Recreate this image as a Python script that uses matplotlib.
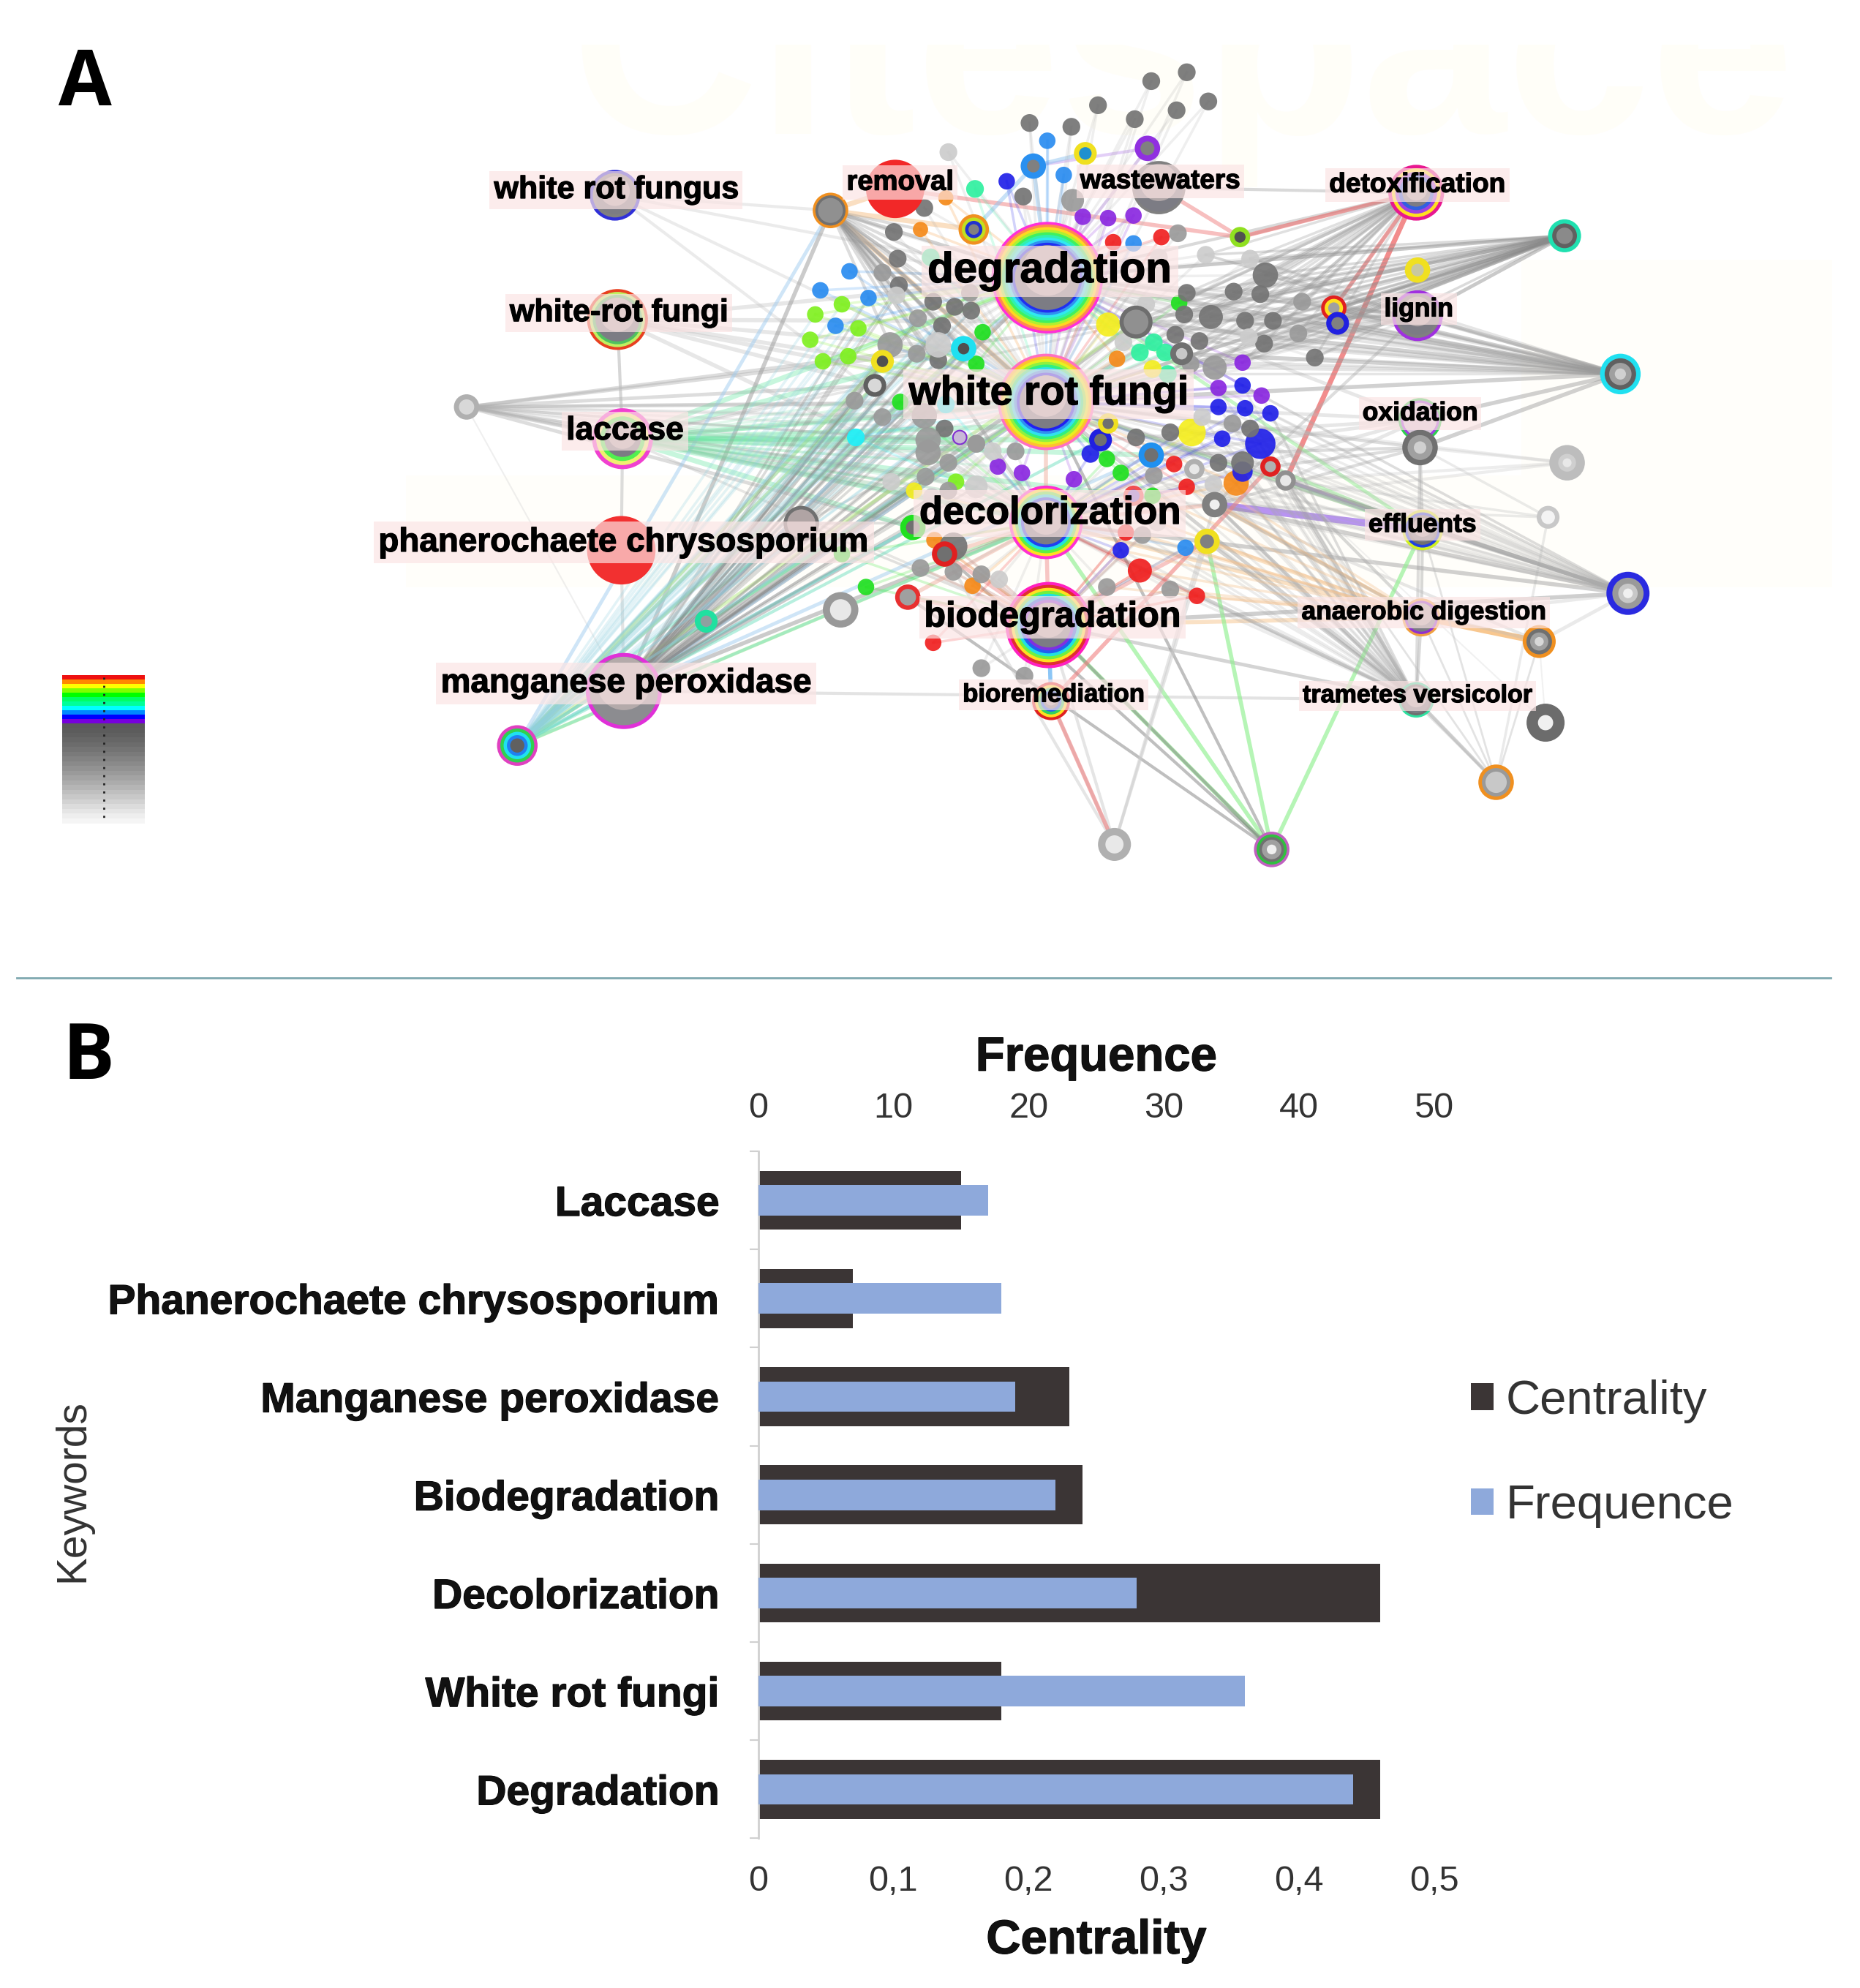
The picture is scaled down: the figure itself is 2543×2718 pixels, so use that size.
import matplotlib
matplotlib.use('Agg')
import matplotlib.pyplot as plt
from matplotlib.patches import Circle, Patch, Rectangle
import matplotlib.patheffects as pe
import numpy as np

plt.rcParams['font.family'] = ['Liberation Sans', 'DejaVu Sans']

# ---------- Panel B data ----------
keywords = ['Degradation', 'White rot fungi', 'Decolorization', 'Biodegradation',
            'Manganese peroxidase', 'Phanerochaete chrysosporium', 'Laccase']
centrality = [0.46, 0.18, 0.46, 0.24, 0.23, 0.07, 0.15]
frequence = [44, 36, 28, 22, 19, 18, 17]
freq_ticks = [0, 10, 20, 30, 40, 50]
cent_ticks = [0, 0.1, 0.2, 0.3, 0.4, 0.5]
cent_labels = ['0', '0,1', '0,2', '0,3', '0,4', '0,5']

# ---------- Panel A data (network layout coordinates) ----------
RB = ['#ff30d8', '#ff8a50', '#ffd820', '#b0f030', '#40f060', '#30f0b0', '#30e8f0', '#3090f0', '#2030f0']
DOME = ['#7c7c84', '#b9aeae']
hubs = {
    'deg': (826, 219, 44, RB, 0.58, DOME),
    'wrf': (825, 317, 38, ['#ff70c0', '#ffc030', '#e8f020', '#90f040', '#30f080', '#30e0f0', '#3090f0', '#2020f0'], 0.55, DOME),
    'dec': (825, 412, 29, ['#ff30d0', '#ffe020', '#60f040', '#20e0e0', '#2040f0'], 0.6, DOME),
    'bio': (827, 493, 34, ['#ff20c0', '#e03030', '#ffe020', '#70f040', '#20e0e0', '#2060f0', '#8030e0'], 0.52, DOME),
    'brm': (829, 553, 15, ['#e02020', '#ffe020', '#30d060', '#2060f0'], 0.4, DOME),
    'mnp': (492, 545, 30, ['#e030d8'], 0.9, ['#8c8c90', '#b9aeae']),
    'pch': (490, 434, 27, ['#f23030'], 0.0, []),
    'lac': (491, 346, 24, ['#f040d0', '#f0f070', '#50f050'], 0.6, DOME),
    'wrf2': (487, 252, 24, ['#e84020', '#c0f060', '#50c060'], 0.72, DOME),
    'fun': (485, 154, 20, ['#3030d8', '#808080'], 0.75, DOME),
    'rem': (706, 149, 23, ['#f22828'], 0.0, []),
    'was': (914, 148, 21, ['#808080'], 0.9, DOME),
    'det': (1117, 152, 22, ['#e81890', '#ffe020', '#a040e0', '#3060e0'], 0.5, DOME),
    'lig': (1118, 249, 20, ['#a030e0', '#808080'], 0.75, DOME),
    'oxi': (1120, 331, 17, ['#30d050', '#a040e0'], 0.78, ['#d8c8d8']),
    'ox2': (1120, 353, 14, ['#707070'], 0.7, ['#a0a0a0', '#d0d0d0']),
    'eff': (1122, 418, 16, ['#d0f020', '#2040e0', '#707070'], 0.6, DOME),
    'ana': (1121, 487, 15, ['#f0a040', '#9030d0'], 0.75, DOME),
    'tra': (1117, 552, 14, ['#30e0a0', '#707070'], 0.75, DOME),
    'p1': (1234, 186, 13, ['#20e0b0', '#606060'], 0.5, ['#8a8a8a']),
    'p2': (1278, 295, 16, ['#20e0f0', '#606060'], 0.55, ['#a0a0a0', '#d0d0d0']),
    'p3': (1236, 365, 14, ['#bdbdbd'], 0.5, ['#cfcfcf', '#e8e8e8']),
    'p4': (1221, 408, 9, ['#c8c8c8'], 0.6, ['#f4f4f4']),
    'p5': (1284, 468, 17, ['#2a2ae0', '#9a9a9a'], 0.45, ['#c8c8c8', '#f0f0f0']),
    'p6': (1214, 506, 13, ['#f09020', '#707070'], 0.55, ['#a0a0a0', '#d8d8d8']),
    'p7': (1219, 570, 15, ['#6c6c6c'], 0.4, ['#f0f0f0']),
    'p8': (1180, 617, 14, ['#f09020', '#9a9a9a'], 0.6, ['#c8c8c8']),
    'p9': (1003, 670, 14, ['#c060c0', '#30c040', '#707070'], 0.55, ['#a0a0a0', '#f0f0f0']),
    'p10': (879, 666, 13, ['#b0b0b0'], 0.55, ['#e8e8e8']),
    'p11': (408, 588, 16, ['#e040c0', '#30d050', '#20e0f0', '#2080f0'], 0.35, ['#606060']),
    'p12': (368, 321, 10, ['#b0b0b0'], 0.6, ['#d8d8d8']),
    'p13': (655, 166, 14, ['#f09020', '#707070'], 0.7, ['#909090']),
    'p14': (768, 181, 12, ['#f09020', '#c0e020', '#2030d0'], 0.35, ['#808080']),
    'p15': (1052, 243, 10, ['#e02020', '#ffe020'], 0.45, ['#a0a0a0']),
    'p16': (1055, 255, 9, ['#2020e0'], 0.55, ['#808080']),
    'p17': (632, 413, 14, ['#707070'], 0.8, ['#b0a4a4']),
    'p18': (663, 481, 14, ['#999999'], 0.6, ['#e8e8e8']),
    'p19': (716, 471, 10, ['#e83030'], 0.65, ['#a0a0a0']),
    'p20': (745, 437, 10, ['#e02020'], 0.6, ['#707070']),
    'p21': (720, 416, 10, ['#20e020'], 0.55, ['#707070']),
    'p22': (557, 490, 9, ['#20e0a0'], 0.5, ['#90a0a0']),
    'p23': (690, 304, 9, ['#606060'], 0.6, ['#d8d8d8']),
    'p24': (696, 285, 9, ['#f0e020'], 0.5, ['#505050']),
    'p25': (760, 275, 10, ['#20e0f0'], 0.45, ['#505050']),
    'p26': (868, 347, 9, ['#2020e0'], 0.55, ['#707070']),
    'p27': (856, 121, 9, ['#f0e020'], 0.55, ['#2090d0']),
    'p28': (905, 117, 10, ['#9030e0'], 0.55, ['#808080']),
    'p29': (978, 187, 8, ['#90e020'], 0.55, ['#505050']),
    'p30': (1118, 213, 10, ['#f0e020'], 0.5, ['#c8c8a0']),
    'p31': (896, 254, 13, ['#6e6e6e'], 0.75, ['#909090']),
    'p32': (958, 398, 10, ['#808080'], 0.4, ['#f0f0f0']),
    'p33': (952, 427, 10, ['#f0e020'], 0.55, ['#808080']),
    'p34': (908, 359, 10, ['#2090f0'], 0.55, ['#707070']),
    'p35': (1002, 368, 8, ['#e02020'], 0.55, ['#b0b0b0']),
    'p36': (1014, 379, 8, ['#909090'], 0.55, ['#e8e8e8']),
    'p37': (874, 334, 8, ['#f0e020'], 0.55, ['#707070']),
    'p38': (815, 131, 10, ['#2a90f0'], 0.5, ['#808080']),
    'p39': (932, 279, 9, ['#707070'], 0.5, ['#c8c8c8']),
    'p40': (894, 391, 8, ['#f05050'], 0.6, ['#8060d0']),
    'p41': (942, 370, 8, ['#b0b0b0'], 0.5, ['#e8e8e8']),
    'p42': (757, 345, 6, ['#8030d0'], 0.8, ['#c8b8d8']),
}
dodger_x = [670, 647, 685, 659, 826, 839, 894, 935]
dodger_y = [214, 229, 235, 257, 111, 138, 192, 432]
lime_x = [664, 643, 677, 639, 669, 649, 754]
lime_y = [240, 248, 259, 268, 281, 285, 380]
red_x = [878, 916, 926, 936, 888, 899, 944, 736]
red_y = [191, 187, 366, 384, 420, 450, 470, 507]
red_r = [6.5, 6.5, 6.5, 6.5, 6.5, 9.5, 6.5, 6.5]
orange_x = [746, 726, 881, 975, 737, 767]
orange_y = [156, 181, 283, 381, 426, 462]
orange_r = [6, 6, 6.5, 10, 6.5, 6.5]
green_x = [930, 775, 710, 873, 884, 683, 664, 770, 909]
green_y = [239, 262, 317, 362, 373, 463, 437, 287, 391]
spring_x = [769, 734, 899, 910, 919, 921]
spring_y = [149, 203, 278, 270, 278, 295]
purple_x = [854, 874, 894, 980, 961, 995, 787, 806, 847]
purple_y = [171, 172, 170, 286, 306, 312, 368, 373, 378]
blue_x = [794, 980, 961, 982, 1002, 964, 994, 860, 884, 980]
blue_y = [143, 304, 321, 322, 326, 346, 350, 358, 434, 372]
blue_r = [6.5, 6.5, 6.5, 6.5, 6.5, 6.5, 12, 7, 6.5, 8]
yellow_x = [874, 940, 909, 721]
yellow_y = [256, 341, 291, 387]
yellow_r = [9.5, 11, 7, 6.5]
cyan_x = [675, 746]
cyan_y = [345, 319]
dark_x = [812, 845, 895, 908, 936, 953, 928, 866, 807, 729, 705, 708, 709, 736, 753, 766, 743, 740,
          745, 998, 973, 994, 936, 934, 955, 982, 1004, 997, 946, 927, 1037, 896, 923, 986, 961, 980, 752]
dark_y = [97, 100, 94, 64, 57, 80, 87, 83, 155, 164, 183, 204, 225, 238, 242, 245, 257, 284,
          338, 217, 230, 232, 231, 248, 250, 253, 253, 271, 269, 264, 282, 345, 341, 338, 365, 365, 431]
dark_r = [7, 7, 7, 7, 7, 7, 7, 7, 7, 7, 7, 7, 7, 7, 7, 7, 7, 7,
          7, 10, 7, 7, 7, 7, 9.5, 7, 7, 7, 7, 7, 7, 7, 7, 7, 7, 9, 11]
gray_x = [846, 696, 765, 724, 702, 723, 674, 696, 729, 732, 732, 748, 730, 748, 770, 801, 770, 972,
          1027, 910, 726, 752, 774, 873, 923, 774, 808, 901, 939, 958, 1024, 929]
gray_y = [158, 215, 231, 251, 272, 279, 316, 329, 328, 347, 357, 365, 376, 387, 350, 356, 350, 334,
          238, 375, 448, 451, 453, 463, 465, 527, 533, 422, 287, 290, 263, 184]
gray_r = [9, 7, 7, 7, 10, 7, 7, 7, 10, 10, 10, 7, 7, 7, 7, 7, 7, 7,
          7, 7, 7, 7, 7, 7, 7, 7, 7, 7, 7, 9.5, 7, 7]
light_x = [748, 707, 740, 703, 770, 735, 783, 951, 986, 904, 886, 985, 948, 957, 788, 914, 914, 913]
light_y = [120, 233, 272, 380, 384, 392, 356, 201, 204, 240, 270, 266, 329, 382, 457, 203, 219, 412]
light_r = [7, 7, 10, 7, 9, 7, 7, 7, 7, 7, 7, 7, 7, 7, 7, 7, 7, 7]

# edges: (source hub, target hubs, colour, width, alpha)
edge_groups = [
    ('p12', ['wrf', 'p23', 'p21', 'p25', 'p31', 'dec'], '#aaaaaa', 3.5, 0.4),
    ('p12', ['lac', 'mnp'], '#cccccc', 1.5, 0.3),
    ('wrf2', ['lac'], '#bbbbbb', 3, 0.6),
    ('lac', ['pch'], '#bbbbbb', 3, 0.5),
    ('pch', ['mnp'], '#bbbbbb', 3, 0.4),
    ('fun', ['deg', 'wrf', 'p13', 'dec'], '#c0c0c0', 3, 0.3),
    ('wrf2', ['deg', 'wrf', 'p24', 'p25', 'p31', 'dec', 'p23'], '#bbbbbb', 4, 0.35),
    ('lac', ['wrf', 'p25', 'p26', 'p34', 'dec', 'p21', 'deg', 'p37', 'p42', 'p40'], '#60e8a0', 5, 0.35),
    ('lac', ['wrf', 'p31', 'p23', 'bio'], '#b0b0b0', 2.5, 0.3),
    ('mnp', ['p13', 'p24', 'p23', 'p25', 'deg', 'wrf', 'dec', 'p21', 'p31', 'p42'], '#999999', 4, 0.5),
    ('mnp', ['tra'], '#bbbbbb', 3, 0.4),
    ('mnp', ['p25', 'wrf', 'p34'], '#a0cdf0', 3.5, 0.5),
    ('p11', ['p13', 'p23', 'p24', 'p25', 'p21', 'deg', 'wrf'], '#a0cdf0', 3.5, 0.5),
    ('p11', ['p24', 'p25', 'p23', 'p31', 'wrf', 'dec'], '#b4ec80', 3.5, 0.5),
    ('p11', ['p21', 'wrf', 'p17', 'dec', 'p26'], '#70e0c0', 3, 0.5),
    ('p13', ['rem', 'p14', 'wrf'], '#f6b878', 5, 0.45),
    ('p13', ['deg', 'wrf', 'p25', 'dec'], '#999999', 3.5, 0.45),
    ('p17', ['dec', 'wrf', 'bio', 'deg'], '#aaaaaa', 2.5, 0.35),
    ('det', ['deg', 'p31', 'p29', 'p15', 'was', 'wrf'], '#a0a0a0', 3, 0.4),
    ('det', ['p29', 'p15'], '#f07070', 4, 0.6),
    ('det', ['p36'], '#ee6666', 5, 0.75),
    ('p29', ['rem', 'was'], '#f08080', 4, 0.5),
    ('p1', ['deg', 'p15', 'lig', 'p31', 'wrf', 'p16'], '#888888', 3.5, 0.45),
    ('p2', ['deg', 'wrf', 'lig', 'p31', 'p16', 'ox2', 'oxi', 'p15', 'p39'], '#999999', 4, 0.45),
    ('lig', ['wrf', 'deg', 'p15', 'p31', 'p32'], '#aaaaaa', 3, 0.4),
    ('oxi', ['wrf', 'p36', 'p34', 'p26', 'deg', 'dec'], '#bbbbbb', 3.5, 0.35),
    ('ox2', ['wrf', 'p35', 'p34', 'p32', 'eff', 'tra'], '#aaaaaa', 3, 0.4),
    ('p3', ['wrf', 'p36', 'ox2', 'dec'], '#cccccc', 3, 0.35),
    ('p4', ['ox2', 'p36', 'p32', 'p8'], '#cccccc', 2.5, 0.4),
    ('eff', ['p32'], '#a070f0', 7, 0.75),
    ('eff', ['p36'], '#a070f0', 4, 0.5),
    ('eff', ['deg', 'wrf', 'p35'], '#90f090', 3.5, 0.5),
    ('p5', ['p32', 'p36', 'dec', 'bio', 'wrf'], '#999999', 4, 0.45),
    ('p5', ['ana', 'p6', 'bio'], '#cccccc', 3.5, 0.4),
    ('ana', ['p6'], '#f6b060', 6, 0.7),
    ('ana', ['bio', 'dec', 'p33', 'p32'], '#f6c48c', 4, 0.5),
    ('ana', ['p32', 'p36', 'eff', 'tra'], '#aaaaaa', 3, 0.45),
    ('p6', ['p32', 'dec'], '#bbbbbb', 3, 0.35),
    ('tra', ['p32', 'p36', 'p33', 'dec', 'wrf', 'bio', 'p8'], '#a0a0a0', 3.5, 0.45),
    ('p7', ['p6', 'p36'], '#dddddd', 1.5, 0.4),
    ('p8', ['tra', 'ana', 'p6', 'p32', 'p36', 'eff'], '#bbbbbb', 2, 0.4),
    ('p9', ['bio', 'dec', 'p33', 'eff'], '#90f090', 4, 0.65),
    ('p9', ['bio', 'p20', 'wrf', 'p19'], '#808080', 3, 0.5),
    ('p10', ['bio', 'p33', 'p32', 'brm', 'p20'], '#cccccc', 3, 0.5),
    ('brm', ['bio'], '#40a0f0', 4, 0.6),
    ('brm', ['p35', 'p10'], '#f08080', 4, 0.6),
    ('bio', ['dec', 'p19', 'p20', 'p33'], '#f09090', 4, 0.5),
    ('dec', ['p20', 'p19', 'p32', 'wrf'], '#f0b0a0', 4, 0.5),
    ('p28', ['p38', 'deg', 'was'], '#c8a0f0', 3, 0.5),
    ('p38', ['deg', 'p14', 'p27'], '#90c4f0', 4, 0.5),
]
# fans: (hub, x_low, x_high, y_low, y_high, colour, width, alpha) links a hub with all cluster nodes in a box
fan_groups = [
    ('p1', 920, 1040, 190, 300, '#8a8a8a', 2.5, 0.3),
    ('p2', 920, 1040, 190, 300, '#9a9a9a', 2.5, 0.25),
    ('det', 920, 1040, 190, 300, '#9a9a9a', 2.5, 0.3),
    ('lig', 920, 1040, 190, 300, '#a0a0a0', 2.5, 0.2),
    ('p13', 690, 770, 180, 300, '#909090', 3, 0.3),
    ('p12', 690, 770, 300, 400, '#b0b0b0', 2.5, 0.22),
    ('lac', 670, 800, 300, 400, '#70e0a0', 2.5, 0.2),
    ('mnp', 670, 780, 220, 400, '#8a8a8a', 2.5, 0.3),
    ('p11', 640, 780, 230, 350, '#90d0e0', 2.5, 0.25),
    ('p5', 880, 1020, 300, 400, '#aaaaaa', 2.5, 0.22),
    ('tra', 880, 1020, 300, 470, '#aaaaaa', 2.5, 0.22),
    ('ana', 860, 960, 380, 470, '#f4c08c', 2.5, 0.35),
    ('bio', 720, 950, 420, 470, '#f0a898', 2.5, 0.35),
]
bar_reds = ['#ee1111', '#ff8800', '#ffff00', '#80ff00', '#00ff00', '#00ff66', '#00ff99',
            '#00ffff', '#0088ff', '#0000ff', '#7700dd']
bar_grays = ['#5a5a5a', '#5c5c5c', '#606060', '#666666', '#6c6c6c', '#737373', '#7a7a7a',
             '#828282', '#8a8a8a', '#929292', '#9a9a9a', '#a3a3a3', '#acacac', '#b5b5b5',
             '#bfbfbf', '#c8c8c8', '#d2d2d2', '#dcdcdc', '#e5e5e5', '#eeeeee', '#f5f5f5']

labels = [
    ('degradation', 828, 214, 42), ('white rot fungi', 827, 311, 40), ('decolorization', 828, 405, 38),
    ('biodegradation', 830, 487, 35), ('phanerochaete chrysosporium', 492, 428, 33),
    ('manganese peroxidase', 494, 539, 33), ('laccase', 493, 340, 32), ('white-rot fungi', 488, 247, 31),
    ('white rot fungus', 486, 150, 31), ('removal', 710, 144, 27.5), ('wastewaters', 915, 143, 26.5),
    ('detoxification', 1118, 146, 26.7), ('lignin', 1119, 244, 25.5), ('oxidation', 1120, 326, 25.6),
    ('effluents', 1122, 414, 25.5), ('anaerobic digestion', 1123, 483, 25.5),
    ('trametes versicolor', 1118, 549, 24.5), ('bioremediation', 831, 548, 25),
]

# ---------- Figure ----------
W, H = 1467, 1568
fig = plt.figure(figsize=(25.43, 27.18), dpi=100, facecolor='white')
net = fig.add_axes([0, 0, 1, 1])
net.set_xlim(0, W)
net.set_ylim(H, 0)
net.axis('off')
heavy = [pe.withStroke(linewidth=0.9, foreground='black')]

# faint watermark
wm = net.text(450, 105, 'Citespace', fontsize=255, fontweight='bold', color='#fffef8', zorder=0, va='baseline')
wm.set_clip_on(True)
wm.set_clip_path(Rectangle((440, 35), 1005, 120, transform=net.transData))
net.add_patch(Rectangle((320, 375), 1125, 88, color='#fffefa', zorder=0, lw=0))
net.add_patch(Rectangle((1200, 205), 245, 258, color='#fffefa', zorder=0, lw=0))

small_groups = [
    (dodger_x, dodger_y, 6.5, '#2a8cf0'), (lime_x, lime_y, 6.5, '#80f020'), (red_x, red_y, red_r, '#f02020'),
    (orange_x, orange_y, orange_r, '#f58a1a'), (green_x, green_y, 6.5, '#20e020'),
    (spring_x, spring_y, 7, '#30f0a0'), (purple_x, purple_y, 6.5, '#8a28e0'),
    (blue_x, blue_y, blue_r, '#2020e8'), (yellow_x, yellow_y, yellow_r, '#f5ee20'),
    (cyan_x, cyan_y, 7, '#20f0f8'), (dark_x, dark_y, dark_r, '#747474'), (gray_x, gray_y, gray_r, '#9a9a9a'),
    (light_x, light_y, light_r, '#cccccc'),
]

# edges between hubs
pos = {k: (v[0], v[1]) for k, v in hubs.items()}
for src, targets, col, lw, al in edge_groups:
    for t in targets:
        net.plot([pos[src][0], pos[t][0]], [pos[src][1], pos[t][1]], color=col, lw=lw, alpha=al,
                 zorder=1, solid_capstyle='round')

# fans from hubs to cluster nodes
for hub, x0, x1, y0, y1, col, lw, al in fan_groups:
    for xs, ys, r, c in small_groups:
        for x, y in zip(xs, ys):
            if x0 <= x <= x1 and y0 <= y <= y1:
                net.plot([pos[hub][0], x], [pos[hub][1], y], color=col, lw=lw, alpha=al, zorder=1)

# links from small nodes to their closest central hubs
central = ['deg', 'wrf', 'dec', 'bio']
for xs, ys, r, col in small_groups:
    for x, y in zip(xs, ys):
        d = sorted(central, key=lambda k: (pos[k][0] - x) ** 2 + (pos[k][1] - y) ** 2)[:2]
        ec = '#b0b0b0' if col in ('#747474', '#9a9a9a', '#cccccc') else col
        for k in d:
            net.plot([x, pos[k][0]], [y, pos[k][1]], color=ec, lw=2.5, alpha=0.2, zorder=1)

# nodes
for xs, ys, r, col in small_groups:
    rs = r if np.iterable(r) else [r] * len(xs)
    for x, y, ri in zip(xs, ys, rs):
        net.add_patch(Circle((x, y), ri, fc=col, ec='none', zorder=2, alpha=0.92))

for key, (x, y, r, rings, corefrac, core) in hubs.items():
    n = len(rings)
    for i, c in enumerate(rings):
        ri = r * (1 - (1 - corefrac) * i / n)
        net.add_patch(Circle((x, y), ri, fc=c, ec='none', zorder=3))
    rc = r * corefrac
    if len(core) == 2 and core[1] == '#b9aeae':
        net.add_patch(Circle((x, y), rc, fc=core[0], ec='none', zorder=3))
        net.add_patch(Circle((x, y - rc * 0.22), rc * 0.78, fc=core[1], ec='none', zorder=3, alpha=0.9))
    else:
        for j, c in enumerate(core):
            net.add_patch(Circle((x, y), rc * (1 - 0.5 * j), fc=c, ec='none', zorder=3))

# labels
for txt, lx, ly, fs in labels:
    t = net.text(lx, ly, txt, fontsize=fs, fontweight='bold', ha='center', va='center', color='black', zorder=5,
                 bbox=dict(boxstyle='square,pad=0.14', fc='#fbe4e4', ec='none', alpha=0.68))
    t.set_path_effects(heavy)

# colour key
key_h_r = (570.5 - 532.5) / len(bar_reds)
key_h_g = (649 - 570.5) / len(bar_grays)
for i, c in enumerate(bar_reds):
    net.add_patch(Rectangle((49, 532.5 + i * key_h_r), 65, key_h_r + 0.5, fc=c, ec='none', zorder=2))
for i, c in enumerate(bar_grays):
    net.add_patch(Rectangle((49, 570.5 + i * key_h_g), 65, key_h_g + 0.5, fc=c, ec='none', zorder=2))
net.plot([82, 82], [534, 648], color='#222222', lw=2, ls=(0, (1, 3)), zorder=3)

# panel letters and divider
net.plot([13, 1444], [771.5, 771.5], color='#7fa8b0', lw=2, zorder=2)
net.text(67, 67, 'A', fontsize=76, fontweight='bold', family='Open Sans', ha='center', va='center', color='black', zorder=6)
net.text(70, 835, 'B', fontsize=76, fontweight='bold', family='Open Sans', ha='center', va='center', color='black', zorder=6)

# ---------- Panel B ----------
ax = fig.add_axes([598 / W, 1 - 1450 / H, (1131 - 598) / W, (1450 - 908) / H])
ax.patch.set_alpha(0)
y = np.arange(len(keywords))
ax.barh(y, centrality, height=0.60, color='#3b3535', zorder=2)
ax.set_xlim(0, 0.5)
ax.set_ylim(-0.5, len(keywords) - 0.5)
ax.set_xticks(cent_ticks)
ax.set_xticklabels(cent_labels, fontsize=35, color='#333333')
ax.set_yticks(y)
ax.set_yticklabels(keywords, fontsize=41, fontweight='bold', color='#111111', path_effects=heavy)
ax.set_yticks(np.arange(-0.5, len(keywords)), minor=True)
ax.tick_params(axis='y', which='major', length=0, pad=38)
ax.tick_params(axis='y', which='minor', length=9, color='#d0d0d0', width=1.5)
ax.tick_params(axis='x', length=0, pad=26)
for s in ['top', 'right', 'bottom']:
    ax.spines[s].set_visible(False)
ax.spines['left'].set_color('#d0d0d0')
ax.spines['left'].set_linewidth(2)
ax.set_xlabel('Centrality', fontsize=47, fontweight='bold', color='#111111', labelpad=21, path_effects=heavy)
ax.set_ylabel('Keywords', fontsize=41, color='#333333')
ax.yaxis.set_label_coords((73 - 598) / (1131 - 598), (1450 - 1176) / (1450 - 908))

top = ax.twiny()
top.patch.set_alpha(0)
top.barh(y, frequence, height=0.31, color='#8ea9db', zorder=3)
top.set_xlim(0, 50)
top.set_xticks(freq_ticks)
top.set_xticklabels([str(v) for v in freq_ticks], fontsize=35, color='#333333')
top.tick_params(axis='x', length=0, pad=26)
for s in top.spines.values():
    s.set_visible(False)
top.set_xlabel('Frequence', fontsize=47, fontweight='bold', color='#111111', labelpad=21, path_effects=heavy)

handles = [Patch(fc='#3b3535', label='Centrality'), Patch(fc='#8ea9db', label='Frequence')]
fig.legend(handles=handles, loc='center left', bbox_to_anchor=(1126 / W, 1 - 1146.5 / H), frameon=False,
           fontsize=47, labelspacing=1.28, handlelength=0.48, handleheight=0.48, handletextpad=0.25,
           labelcolor='#333333')

fig.savefig('out.png', dpi=100)
